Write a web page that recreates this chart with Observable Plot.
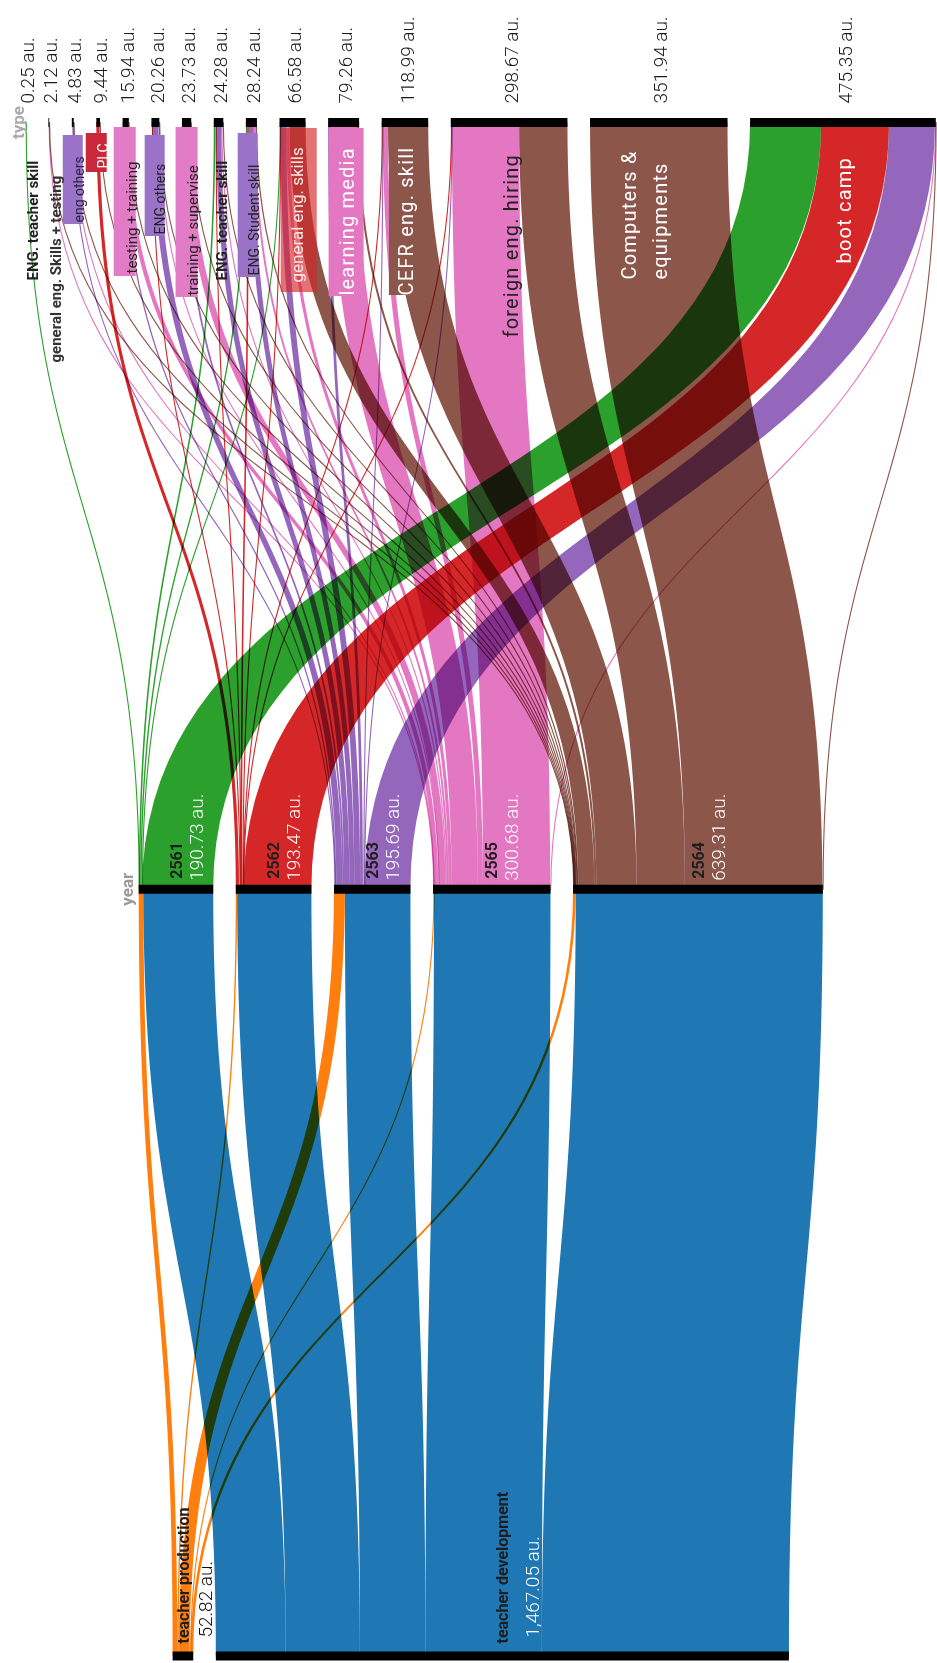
<!DOCTYPE html>
<html><head><meta charset="utf-8">
<script src="https://cdn.jsdelivr.net/npm/d3@7"></script>
<script src="https://cdn.jsdelivr.net/npm/@observablehq/plot@0.6"></script>
<style>
html,body{margin:0;padding:0;background:#fff;}
#chart svg{display:block;}
</style></head><body><div id="chart"></div>
<script>
// ---------------- DATA ----------------
const types = ["ENG. teacher skill", "general eng. Skills + testing", "eng others", "PLC", "testing + training",
  "ENG others", "training + supervise", "ENG. teacher skill", "ENG. Student skill", "general eng. skills",
  "learning media", "CEFR eng. skill", "foreign eng. hiring", "Computers &\nequipments", "boot camp"];
const typeValues = [0.25, 2.12, 4.83, 9.44, 15.94, 20.26, 23.73, 24.28, 28.24, 66.58, 79.26, 118.99, 298.67, 351.94, 475.35];

const years = ["2561", "2562", "2563", "2565", "2564"];
const yearValues = [190.73, 193.47, 195.69, 300.68, 639.31];

const outcomes = ["teacher production", "teacher development"];
const outcomeValues = [52.82, 1467.05];

// type -> year flows (columns follow `years`)
const typeYearFlows = [
  [0.25, 0, 0, 0, 0],
  [0, 0, 0, 1.1, 1.02],
  [0, 0, 2.6, 1.2, 1.03],
  [0, 8.2, 0, 0, 1.24],
  [0, 0, 3.5, 11, 1.44],
  [0, 2.5, 15.5, 1.5, 0.76],
  [0, 0, 4.5, 17, 2.23],
  [4, 1.5, 13.5, 3, 2.28],
  [3.5, 4, 12.5, 5, 3.24],
  [1, 1.5, 15, 8, 41.08],
  [0, 0, 7, 67, 5.26],
  [0, 0.5, 2.5, 13, 102.99],
  [0, 1.5, 1.5, 172, 123.67],
  [0, 0, 0, 0, 351.94],
  [181.98, 173.77, 117.59, 0.88, 1.13]
];
// year -> outcome flows (follow `years`)
const yearProduction = [12, 3.5, 28, 2.5, 6.82];
const yearDevelopment = [178.73, 189.97, 167.69, 298.18, 632.49];

// ---------------- STYLE ----------------
const yearColors = ["#2ca02c", "#d62728", "#9467bd", "#e377c2", "#8c564b"];
const outcomeColors = ["#ff7f0e", "#1f77b4"];
const W = 937, H = 1663;
const M = {top: 122, bottom: 7.5, left: 12, right: 0};
const XDOM = [-1200, 1168];
const K = (W - M.left - M.right) / (XDOM[1] - XDOM[0]); // px per unit
const LPX = (H - M.top - M.bottom) / 2;                 // px per level
const GAP = 22.6 / K;
const THIN_PX = 1.1;                                    // ribbons thinner than this are drawn as hairlines
const FONT = "Roboto, 'Noto Sans', sans-serif";
const WIDE_LABELS = [10, 11, 12, 13, 14];

// label placement (px offsets from node centre / axis centre)
const typeLabelStyle = [
  {dx: 4, dy: 158, size: 15, weight: 700, color: "#222"},
  {dx: 4, dy: 240, size: 15, weight: 700, color: "#333"},
  {dx: 4, dy: 100, size: 14, color: "#2b2340", box: [-10, 10, 13, 102], boxFill: "#9a72c8"},
  {dx: 2.5, dy: 46, size: 14, color: "#fff", box: [-12.4, 8.6, 11, 50], boxFill: "#c9283a"},
  {dx: 3, dy: 151, size: 15, color: "#222", box: [-12, 10, 5, 154], boxFill: "#e27cc6"},
  {dx: 2.3, dy: 112, size: 14, color: "#222", box: [-10.7, 9.3, 13, 114], boxFill: "#9a72c8"},
  {dx: 3, dy: 173, size: 15, color: "#222", box: [-11, 11, 5, 175], boxFill: "#e27cc6"},
  {dx: 0, dy: 158, size: 15, weight: 700, color: "#222"},
  {dx: 0, dy: 153, size: 14, color: "#222", box: [-13.7, 6.3, 11, 155], boxFill: "#9a72c8"},
  {dx: 2, dy: 160, size: 17, color: "#fbe6e6", box: [-11.8, 24.2, 6, 170], boxFill: "#d62728", boxOpacity: 0.65},
  {dx: 0, dy: 173, size: 20, color: "#fff", box: [-15, 20, 6, 174], boxFill: "#e377c2"},
  {dx: -2.7, dy: 173, size: 20, color: "#fff", box: [-16, 22, 6, 173], boxFill: "#8c564b"},
  {dx: -1.4, dy: 215, size: 20, color: "#222"},
  {dx: -17.6, dy: 157, size: 20, color: "#fff"},
  {dx: -2, dy: 141, size: 20, color: "#fff"}
];

// ---------------- LAYOUT ----------------
function layout(values, level) {
  const span = d3.sum(values) + GAP * (values.length - 1);
  let x = -span / 2;
  return values.map((v, i) => { const n = {i, level, v, x0: x, x1: x + v, c: x + v / 2}; x += v + GAP; return n; });
}
const typeNodes = layout(typeValues, 0);
const yearNodes = layout(yearValues, 1);
const outNodes = layout(outcomeValues, 2);

const STEPS = 48;
function addRibbon(pts, id, key, a0, b0, w, ya, yb) {
  const ym = (ya + yb) / 2;
  for (let s = 0; s <= STEPS; s++) {
    const t = s / STEPS, u = 1 - t;
    const wb = 3 * t * t * u + t * t * t;
    const y = ya * u * u * u + ym * (3 * t * u * u + 3 * t * t * u) + yb * t * t * t;
    const x = a0 * (1 - wb) + b0 * wb;
    pts.push({id, key, y, x1: x, x2: x + w, xc: x + w / 2});
  }
}

const ribbonPts = [], hairPts = [];
const target = v => (v * K < THIN_PX ? hairPts : ribbonPts);

const yearOut = [yearProduction, yearDevelopment];
const outCursor = outNodes.map(n => n.x0);
yearNodes.forEach((yn, j) => {
  let cur = yn.x0;
  yearOut.forEach((arr, o) => {
    const v = arr[j];
    if (v > 0) addRibbon(target(v), `y${j}-${o}`, outcomes[o], cur, outCursor[o], v, 1, 2);
    cur += v; outCursor[o] += v;
  });
});

const yearCursor = yearNodes.map(n => n.x0);
typeNodes.forEach((tn, i) => {
  let cur = tn.x0;
  years.forEach((yr, j) => {
    const v = typeYearFlows[i][j];
    if (v > 0) addRibbon(target(v), `t${i}-${j}`, yr, cur, yearCursor[j], v, 0, 1);
    cur += v; yearCursor[j] += v;
  });
});

const fmt = v => d3.format(",.2f")(v) + " au.";
const px2x = p => p / K;
const px2y = p => p / LPX;

// ---------------- MARKS ----------------
const marks = [];
marks.push(Plot.areaX(ribbonPts, {y: "y", x1: "x1", x2: "x2", z: "id", fill: "key", curve: "linear", mixBlendMode: "multiply"}));
marks.push(Plot.line(hairPts, {x: "xc", y: "y", z: "id", stroke: "key", strokeWidth: 1.1, curve: "linear", mixBlendMode: "multiply"}));

const allNodes = [...typeNodes, ...yearNodes, ...outNodes];
marks.push(Plot.ruleY(allNodes, {y: "level", x1: "x0", x2: "x1", stroke: "#000", strokeWidth: 9}));

// label boxes
typeNodes.forEach((n, i) => {
  const s = typeLabelStyle[i];
  if (!s.box) return;
  marks.push(Plot.rect([n], {
    x1: d => d.c + px2x(s.box[0]), x2: d => d.c + px2x(s.box[1]),
    y1: d => d.level + px2y(s.box[2]), y2: d => d.level + px2y(s.box[3]),
    fill: s.boxFill, fillOpacity: s.boxOpacity ?? 1
  }));
});

// type names
typeNodes.forEach((n, i) => {
  const s = typeLabelStyle[i];
  marks.push(Plot.text([n], {
    x: d => d.c + px2x(s.dx), y: d => d.level + px2y(s.dy), text: () => types[i],
    rotate: -90, textAnchor: "start", lineAnchor: "middle", lineHeight: 1.55,
    fontSize: s.size, fontWeight: s.weight || 400, fill: s.color
  }));
});
// type values above top axis
marks.push(Plot.text(typeNodes, {
  x: d => d.c + px2x(2), y: d => d.level - px2y(19), text: d => fmt(d.v),
  rotate: -90, textAnchor: "start", lineAnchor: "middle", fontSize: 19, fontWeight: 300, fill: "#1a1a1a"
}));

// year labels
marks.push(Plot.text(yearNodes, {
  x: "c", y: d => d.level - px2y(10.5), text: d => years[d.i],
  rotate: -90, textAnchor: "start", lineAnchor: "middle", fontSize: 16, fontWeight: 700, fill: "#1e1e1e"
}));
marks.push(Plot.text(yearNodes, {
  x: d => d.c + px2x(20), y: d => d.level - px2y(8.5), text: d => fmt(d.v),
  rotate: -90, textAnchor: "start", lineAnchor: "middle", fontSize: 19, fontWeight: 300, fill: "#fff"
}));

// outcome labels
marks.push(Plot.text(outNodes, {
  x: "c", y: d => d.level - px2y(12.5), text: d => outcomes[d.i],
  rotate: -90, textAnchor: "start", lineAnchor: "middle", fontSize: 16, fontWeight: 700, fill: "#1e1e1e"
}));
marks.push(Plot.text([outNodes[0]], {
  x: d => d.c + px2x(22), y: d => d.level - px2y(18.5), text: d => fmt(d.v),
  rotate: -90, textAnchor: "start", lineAnchor: "middle", fontSize: 19, fontWeight: 300, fill: "#111"
}));
marks.push(Plot.text([outNodes[1]], {
  x: d => d.c + px2x(30), y: d => d.level - px2y(18.5), text: d => fmt(d.v),
  rotate: -90, textAnchor: "start", lineAnchor: "middle", fontSize: 19, fontWeight: 300, fill: "#fff"
}));

// dimension names
marks.push(Plot.text([typeNodes[0]], {
  x: d => d.x0 - px2x(8), y: d => d.level, text: () => "type",
  rotate: -90, textAnchor: "middle", lineAnchor: "middle", fontSize: 17, fontWeight: 700, fill: "#aaa"
}));
marks.push(Plot.text([yearNodes[0]], {
  x: d => d.x0 - px2x(12), y: d => d.level, text: () => "year",
  rotate: -90, textAnchor: "middle", lineAnchor: "middle", fontSize: 17, fontWeight: 700, fill: "#999"
}));

const chart = Plot.plot({
  width: W, height: H,
  marginTop: M.top, marginBottom: M.bottom, marginLeft: M.left, marginRight: M.right,
  x: {domain: XDOM, axis: null},
  y: {domain: [0, 2], reverse: true, axis: null},
  color: {domain: [...years, ...outcomes], range: [...yearColors, ...outcomeColors]},
  style: {fontFamily: FONT, background: "white", overflow: "visible"},
  marks
});
// wider tracking for the large in-ribbon labels
const wideTexts = new Set(WIDE_LABELS.flatMap(i => types[i].split("\n")));
chart.querySelectorAll("text, tspan").forEach(t => {
  if (wideTexts.has(t.textContent)) t.style.letterSpacing = "1.2px";
});
document.getElementById("chart").appendChild(chart);
</script>
</body></html>
